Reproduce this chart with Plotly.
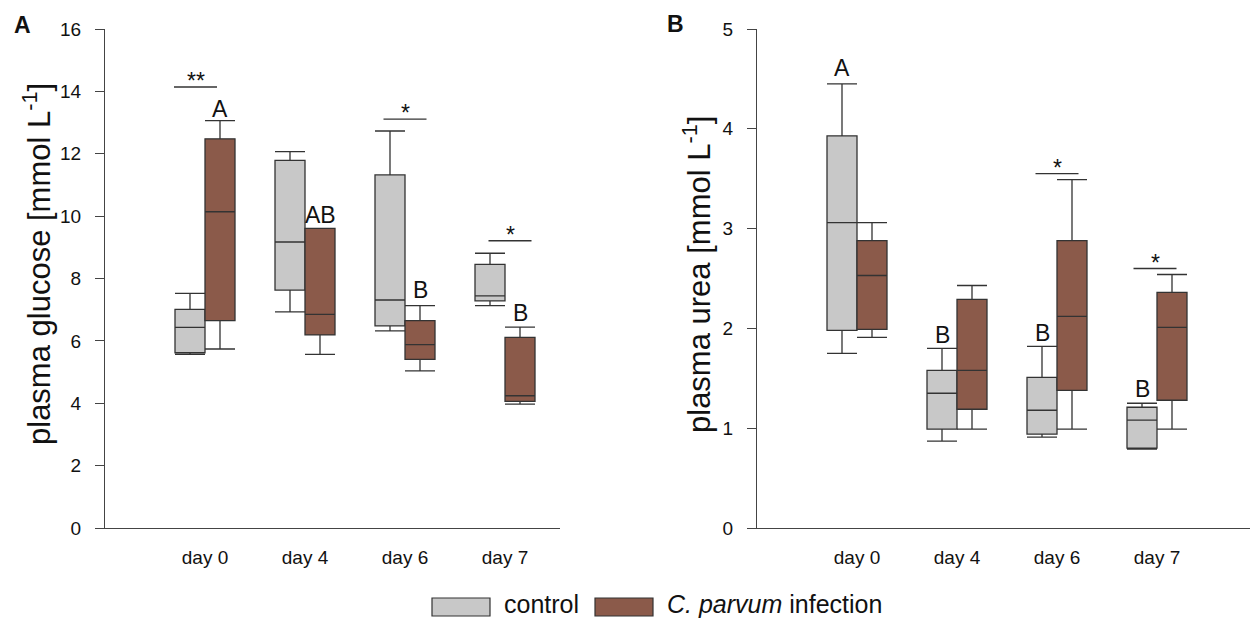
import plotly.graph_objects as go

days = ["day 0", "day 4", "day 6", "day 7"]

# Panel A: plasma glucose [mmol/L]
glu_ctrl_low = [5.57, 6.93, 6.32, 7.13]
glu_ctrl_q1 = [5.62, 7.63, 6.48, 7.28]
glu_ctrl_med = [6.43, 9.17, 7.31, 7.44]
glu_ctrl_q3 = [7.01, 11.79, 11.32, 8.45]
glu_ctrl_high = [7.52, 12.07, 12.73, 8.81]

glu_inf_low = [5.74, 5.57, 5.04, 3.97]
glu_inf_q1 = [6.65, 6.19, 5.41, 4.06]
glu_inf_med = [10.14, 6.85, 5.88, 4.24]
glu_inf_q3 = [12.48, 9.61, 6.65, 6.11]
glu_inf_high = [13.06, 9.61, 7.13, 6.44]

# Panel B: plasma urea [mmol/L]
urea_ctrl_low = [1.75, 0.87, 0.91, 0.79]
urea_ctrl_q1 = [1.98, 0.99, 0.94, 0.80]
urea_ctrl_med = [3.06, 1.35, 1.18, 1.08]
urea_ctrl_q3 = [3.93, 1.58, 1.51, 1.21]
urea_ctrl_high = [4.45, 1.80, 1.82, 1.25]

urea_inf_low = [1.91, 0.99, 0.99, 0.99]
urea_inf_q1 = [1.99, 1.19, 1.38, 1.28]
urea_inf_med = [2.53, 1.58, 2.12, 2.01]
urea_inf_q3 = [2.88, 2.29, 2.88, 2.36]
urea_inf_high = [3.06, 2.43, 3.49, 2.54]

# letters (category, text, y-centre)
glu_letters_day = ["day 0", "day 4", "day 6", "day 7"]
glu_letters_txt = ["A", "AB", "B", "B"]
glu_letters_y = [13.43, 10.03, 7.63, 6.89]
urea_letters_day = ["day 0", "day 4", "day 6", "day 7"]
urea_letters_txt = ["A", "B", "B", "B"]
urea_letters_y = [4.61, 1.93, 1.95, 1.39]

# significance bars
glu_sig_day = ["day 0", "day 6", "day 7"]
glu_sig_txt = ["**", "*", "*"]
glu_sig_y = [14.14, 13.11, 9.21]
urea_sig_day = ["day 6", "day 7"]
urea_sig_txt = ["*", "*"]
urea_sig_y = [3.55, 2.60]

CTRL = "#c8c8c8"
INF = "#8b5a4a"
LINE = "#333333"
FONT = "Liberation Sans, Arial, sans-serif"

fig = go.Figure()

def add_box(xa, ya, low, q1, med, q3, high, fill, name):
    fig.add_trace(go.Box(
        x=days, lowerfence=low, q1=q1, median=med, q3=q3, upperfence=high,
        name=name, fillcolor=fill, line=dict(color=LINE, width=1.3),
        whiskerwidth=1, boxpoints=False, offsetgroup=name,
        xaxis=xa, yaxis=ya, showlegend=False, hoverinfo="skip"))

add_box("x", "y", glu_ctrl_low, glu_ctrl_q1, glu_ctrl_med, glu_ctrl_q3, glu_ctrl_high, CTRL, "control")
add_box("x", "y", glu_inf_low, glu_inf_q1, glu_inf_med, glu_inf_q3, glu_inf_high, INF, "infection")
add_box("x2", "y2", urea_ctrl_low, urea_ctrl_q1, urea_ctrl_med, urea_ctrl_q3, urea_ctrl_high, CTRL, "control")
add_box("x2", "y2", urea_inf_low, urea_inf_q1, urea_inf_med, urea_inf_q3, urea_inf_high, INF, "infection")

W, H = 1250, 619
ybot, ytop = 1 - 528 / H, 1 - 29 / H

axis_common = dict(showline=True, linecolor="#444444", linewidth=1.3, showgrid=False,
                   zeroline=False, automargin=False)
xfont = dict(family=FONT, size=19, color="#111111")
yfont = dict(family=FONT, size=19, color="#111111")

fig.update_layout(
    width=W, height=H, margin=dict(l=0, r=0, t=0, b=0, pad=0, autoexpand=False),
    paper_bgcolor="white", plot_bgcolor="white",
    boxmode="group", boxgap=0.4, boxgroupgap=0,
    xaxis=dict(domain=[105 / W, 560 / W], type="category", range=[-1, 3.55],
               ticks="", anchor="y", tickfont=xfont, ticklabelstandoff=12, **axis_common),
    yaxis=dict(domain=[ybot, ytop], range=[0, 16], dtick=2, ticks="outside", ticklen=9,
               tickcolor="#444444", tickwidth=1.3, anchor="x", tickfont=yfont,
               ticklabelstandoff=10, **axis_common),
    xaxis2=dict(domain=[757 / W, 1.0], type="category", range=[-1, 3.93],
                ticks="", anchor="y2", tickfont=xfont, ticklabelstandoff=12, **axis_common),
    yaxis2=dict(domain=[ybot, ytop], range=[0, 5], dtick=1, ticks="outside", ticklen=9,
                tickcolor="#444444", tickwidth=1.3, anchor="x2", tickfont=yfont,
                ticklabelstandoff=10, **axis_common),
)

annots = []
shapes = []

def idx(d):
    return days.index(d)

def letters(xa, ya, dd, tt, yy, off):
    for d, t, y in zip(dd, tt, yy):
        annots.append(dict(x=idx(d) + off, y=y, xref=xa, yref=ya, text=t, showarrow=False,
                           font=dict(family=FONT, size=23, color="#111111"),
                           xanchor="center", yanchor="middle"))

letters("x", "y", glu_letters_day, glu_letters_txt, glu_letters_y, 0.15)
letters("x2", "y2", urea_letters_day, urea_letters_txt, urea_letters_y, -0.15)

def sig(xa, ya, dd, tt, yy, offs):
    for d, t, y, o in zip(dd, tt, yy, offs):
        c = idx(d) + o
        shapes.append(dict(type="line", xref=xa, yref=ya, x0=c - 0.215, x1=c + 0.215,
                           y0=y, y1=y, line=dict(color=LINE, width=1.3)))
        annots.append(dict(x=c, y=y, xref=xa, yref=ya, text=t, showarrow=False,
                           font=dict(family=FONT, size=23, color="#111111"),
                           xanchor="center", yanchor="bottom", yshift=-9))

sig("x", "y", glu_sig_day, glu_sig_txt, glu_sig_y, [-0.095, 0.0, 0.05])
sig("x2", "y2", urea_sig_day, urea_sig_txt, urea_sig_y, [0.0, -0.02])

# y-axis titles
annots.append(dict(x=37 / W, y=1 - 264 / H, xref="paper", yref="paper", textangle=-90,
                   text="plasma glucose [mmol L<sup>-1</sup>]", showarrow=False,
                   font=dict(family=FONT, size=31, color="#111111"),
                   xanchor="center", yanchor="middle"))
annots.append(dict(x=697 / W, y=1 - 275 / H, xref="paper", yref="paper", textangle=-90,
                   text="plasma urea [mmol L<sup>-1</sup>]", showarrow=False,
                   font=dict(family=FONT, size=31, color="#111111"),
                   xanchor="center", yanchor="middle"))
# panel labels
annots.append(dict(x=22 / W, y=1 - 25 / H, xref="paper", yref="paper", text="<b>A</b>",
                   showarrow=False, font=dict(family=FONT, size=23, color="#111111"),
                   xanchor="center", yanchor="middle"))
annots.append(dict(x=676 / W, y=1 - 24 / H, xref="paper", yref="paper", text="<b>B</b>",
                   showarrow=False, font=dict(family=FONT, size=23, color="#111111"),
                   xanchor="center", yanchor="middle"))

# legend
legend_items = [("control", CTRL), ("<i>C. parvum</i> infection", INF)]
leg_x = [432, 595]
for (lbl, col), lx in zip(legend_items, leg_x):
    shapes.append(dict(type="rect", xref="paper", yref="paper",
                       x0=lx / W, x1=(lx + 58) / W, y0=1 - 616 / H, y1=1 - 598 / H,
                       fillcolor=col, line=dict(color=LINE, width=1.2)))
    annots.append(dict(x=(lx + 70) / W, y=1 - 604 / H, xref="paper", yref="paper", text=lbl,
                       showarrow=False, font=dict(family=FONT, size=25, color="#111111"),
                       xanchor="left", yanchor="middle"))

fig.update_layout(annotations=annots, shapes=shapes)
fig.write_html("out.html")
